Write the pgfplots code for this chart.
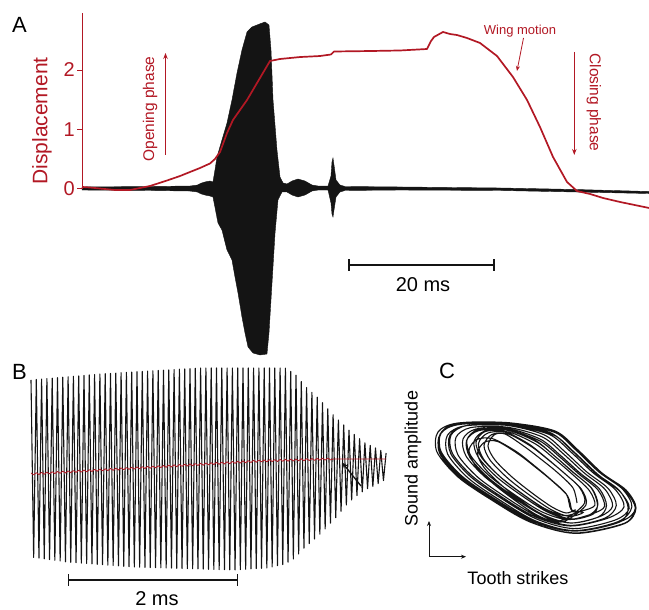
\documentclass[border=0pt]{standalone}
\usepackage{fontspec}
\setmainfont{Liberation Sans}
\usepackage{pgfplots}
\pgfplotsset{compat=1.18}
\usetikzlibrary{arrows.meta}
\definecolor{dispred}{RGB}{178,24,36}
\definecolor{trace}{RGB}{20,20,20}
\newcommand{\fs}[1]{\fontsize{#1}{#1}\selectfont}
\begin{document}
\begin{tikzpicture}
\useasboundingbox (0pt,0pt) rectangle (649pt,610pt);
% ---------------- Panel A ----------------
\begin{axis}[at={(82pt,250pt)}, anchor=south west, scale only axis,
  width=567pt, height=348pt,
  xmin=0, xmax=78.75, ymin=-2.874, ymax=2.975, clip=false,
  axis line style={draw=none}, xtick=\empty, ytick={0,1,2}, ytick pos=left,
  tick align=outside, major tick length=5pt,
  ytick style={draw=dispred, line width=1pt},
  yticklabel style={text=dispred, font=\fs{20}, inner sep=0pt, xshift=-2pt},
  /pgf/number format/assume math mode=true]
% sound trace (envelope of the oscillation)
\addplot[draw=trace, fill=trace, line width=0.4pt] coordinates {
(0,0.034) (9.44,0.042) (15.0,0.050) (16.0,0.065) (16.5,0.095) (17.08,0.118) (17.78,0.134) (18.19,0.118)
(18.47,0.319) (18.75,0.538) (19.44,0.824) (20.14,1.109) (20.83,1.496) (21.53,1.950) (22.22,2.336)
(22.92,2.639) (23.61,2.723) (24.72,2.776) (25.42,2.807) (25.97,2.756) (26.25,2.336) (26.53,1.496)
(27.08,0.655) (27.5,0.202) (27.92,0.101) (28.47,0.084) (29.17,0.134) (30.0,0.168) (30.97,0.134)
(31.94,0.067) (32.78,0.050) (34.17,0.050) (34.58,0.218) (34.72,0.454) (34.86,0.521) (35.0,0.403)
(35.28,0.151) (35.83,0.067) (36.53,0.042) (44.17,0.034) (58.06,0.017) (68.47,-0.008) (78.75,-0.042)
(78.75,-0.076) (68.47,-0.050) (58.06,-0.025) (44.17,-0.017) (36.53,-0.025) (35.83,-0.050) (35.28,-0.134)
(35.0,-0.353) (34.86,-0.471) (34.72,-0.420) (34.58,-0.235) (34.17,-0.017) (32.78,-0.017) (31.94,-0.034)
(30.97,-0.101) (30.0,-0.134) (29.17,-0.101) (28.47,-0.050) (27.78,-0.050) (27.22,-0.185) (26.81,-0.739)
(26.39,-1.580) (25.97,-2.420) (25.69,-2.773) (24.72,-2.790) (23.75,-2.756) (23.06,-2.655) (22.64,-2.420)
(22.22,-2.151) (21.67,-1.748) (21.25,-1.479) (20.83,-1.193) (20.14,-1.025) (19.44,-0.689) (18.89,-0.571)
(18.19,-0.134) (17.78,-0.118) (17.08,-0.101) (16.5,-0.080) (16.0,-0.050) (15.0,-0.034) (9.44,-0.025) (0,-0.017)
} -- cycle;
% wing displacement
\addplot[dispred, line width=1.7pt, line join=round] coordinates {
(0,0.034) (1.11,0.025) (2.5,0.008) (4.58,-0.017) (6.67,-0.017) (9.44,0.050) (11.81,0.143) (13.61,0.218)
(15.0,0.286) (16.39,0.353) (17.78,0.429) (18.47,0.504) (19.17,0.622) (20.14,0.941) (20.97,1.160)
(22.92,1.496) (24.72,1.866) (26.11,2.151) (26.81,2.168) (27.5,2.185) (30.28,2.218) (33.06,2.235)
(34.58,2.261) (35.0,2.311) (40.0,2.319) (44.17,2.328) (47.92,2.353) (48.47,2.487) (48.89,2.555)
(50.14,2.639) (51.11,2.605) (52.08,2.588) (53.47,2.538) (55.28,2.454) (57.64,2.235) (59.86,1.882)
(61.81,1.496) (63.61,1.042) (65.42,0.538) (67.36,0.118) (68.75,-0.034) (70.56,-0.084) (72.36,-0.151)
(74.72,-0.218) (78.75,-0.319)
};
\draw[dispred, line width=1pt] (axis cs:0,0) -- (axis cs:0,2.96);
\end{axis}
\node[font=\fs{22}] at (19.5pt,585pt) {A};
\node[dispred, rotate=90, font=\fs{21}] at (42pt,489pt) {Displacement};
\node[dispred, rotate=90, font=\fs{15.5}] at (150pt,501pt) {Opening phase};
\draw[dispred, line width=1pt, -{Stealth[length=6pt,width=4.5pt]}] (165.5pt,455pt) -- (165.5pt,557pt);
\node[dispred, rotate=-90, font=\fs{15.5}] at (594pt,507.5pt) {Closing phase};
\draw[dispred, line width=1pt, -{Stealth[length=6pt,width=4.5pt]}] (574.3pt,558pt) -- (574.3pt,455pt);
\node[dispred, font=\fs{13}] at (520pt,579pt) {Wing motion};
\draw[dispred, line width=0.8pt, -{Stealth[length=5pt,width=4pt]}] (523.5pt,572pt) -- (517pt,539pt);
\draw[trace, line width=1.3pt] (349pt,345pt) -- (494pt,345pt);
\draw[trace, line width=1.3pt] (349pt,339pt) -- (349pt,351pt);
\draw[trace, line width=1.3pt] (494pt,339pt) -- (494pt,351pt);
\node[font=\fs{20}] at (423pt,325pt) {20 ms};
% ---------------- Panel B ----------------
\begin{axis}[at={(25pt,250pt)}, anchor=north west, scale only axis,
  width=370pt, height=220pt, xmin=25, xmax=395, ymin=360, ymax=580,
  y dir=reverse, hide axis, clip=false]
\addplot[trace, line width=1.1pt, line join=round] coordinates {
(31,380) (33.65,557.4) (36.3,379.5) (38.95,558.1) (41.6,379.1) (44.25,558.8) (46.9,378.6) (49.55,559.6)
(52.2,378.2) (54.85,560.3) (57.5,377.7) (60.15,561.0) (62.8,377.2) (65.45,561.8) (68.1,376.8) (70.75,562.3)
(73.4,376.3) (76.05,562.7) (78.7,375.9) (81.35,563.1) (84.0,375.4) (86.65,563.5) (89.3,374.9) (91.95,563.9)
(94.6,374.5) (97.25,564.3) (99.9,374.0) (102.55,564.7) (105.2,373.7) (107.85,565.1) (110.5,373.4) (113.15,565.5)
(115.8,373.1) (118.45,565.9) (121.1,372.7) (123.75,566.3) (126.4,372.4) (129.05,566.7) (131.7,372.1) (134.35,567.0)
(137.0,371.8) (139.65,567.2) (142.3,371.5) (144.95,567.4) (147.6,371.1) (150.25,567.5) (152.9,370.8) (155.55,567.7)
(158.2,370.5) (160.85,567.8) (163.5,370.2) (166.15,568.0) (168.8,369.9) (171.45,568.1) (174.1,369.6) (176.75,568.3)
(179.4,369.2) (182.05,568.5) (184.7,368.9) (187.35,568.6) (190.0,368.6) (192.65,568.8) (195.3,368.3) (197.95,568.9)
(200.6,368) (203.25,569.1) (205.9,368) (208.55,569.3) (211.2,368) (213.85,569.4) (216.5,368) (219.15,569.6)
(221.8,368) (224.45,569.7) (227.1,368) (229.75,569.9) (232.4,368) (235.05,569.9) (237.7,368) (240.35,569.6)
(243.0,368) (245.65,569.3) (248.3,368) (250.95,568.9) (253.6,368) (256.25,568.6) (258.9,368) (261.55,568.3)
(264.2,368) (266.85,568.0) (269.5,368) (272.15,566.9) (274.8,368) (277.45,565.7) (280.1,368) (282.75,564.5)
(285.4,368.2) (288.05,562.2) (290.7,371.4) (293.35,559.0) (296.0,375.2) (298.65,554.0) (301.3,381.6) (303.95,548.2)
(306.6,387.5) (309.25,543.5) (311.9,392.4) (314.55,539.0) (317.2,397.2) (319.85,534.2) (322.5,402.8) (325.15,528.9)
(327.8,408.8) (330.45,523.2) (333.1,414.8) (335.75,517.7) (338.4,420.0) (341.05,511.3) (343.7,425.0) (346.35,505.0)
(349.0,430.2) (351.65,500.0) (354.3,434.4) (356.95,495.5) (359.6,438.7) (362.25,491.9) (364.9,442.9) (367.55,488.7)
(370.2,445.5) (372.85,486.5) (375.5,448.0) (378.15,483.6) (380.8,450.5) (383.45,480.5) (386.1,453)
};
\addplot[dispred, line width=0.8pt, line join=round] coordinates {
(31,473.0) (33.65,474.9) (36.3,472.7) (38.95,474.6) (41.6,472.4) (44.25,474.3) (46.9,472.1) (49.55,473.9)
(52.2,471.8) (54.85,473.6) (57.5,471.5) (60.15,473.3) (62.8,471.2) (65.45,473.0) (68.1,470.9) (70.75,472.7)
(73.4,470.6) (76.05,472.4) (78.7,470.3) (81.35,472.1) (84.0,470.0) (86.65,471.8) (89.3,469.7) (91.95,471.5)
(94.6,469.4) (97.25,471.2) (99.9,469.1) (102.55,470.9) (105.2,468.8) (107.85,470.6) (110.5,468.5) (113.15,470.3)
(115.8,468.2) (118.45,470.0) (121.1,467.9) (123.75,469.7) (126.4,467.6) (129.05,469.4) (131.7,467.3) (134.35,469.1)
(137.0,467.0) (139.65,468.8) (142.3,466.7) (144.95,468.5) (147.6,466.4) (150.25,468.2) (152.9,466.1) (155.55,467.9)
(158.2,465.8) (160.85,467.6) (163.5,465.5) (166.15,467.3) (168.8,465.1) (171.45,467.0) (174.1,464.8) (176.75,466.7)
(179.4,464.5) (182.05,466.4) (184.7,464.2) (187.35,466.1) (190.0,463.9) (192.65,465.8) (195.3,463.6) (197.95,465.5)
(200.6,463.3) (203.25,465.2) (205.9,463.0) (208.55,464.9) (211.2,462.7) (213.85,464.6) (216.5,462.4) (219.15,464.3)
(221.8,462.1) (224.45,464.0) (227.1,461.8) (229.75,463.7) (232.4,461.5) (235.05,463.4) (237.7,461.2) (240.35,463.1)
(243.0,460.9) (245.65,462.8) (248.3,460.6) (250.95,462.5) (253.6,460.3) (256.25,462.2) (258.9,460.0) (261.55,461.9)
(264.2,459.9) (266.85,461.8) (269.5,459.7) (272.15,461.6) (274.8,459.6) (277.45,461.5) (280.1,459.4) (282.75,461.3)
(285.4,459.3) (288.05,461.2) (290.7,459.1) (293.35,461.0) (296.0,459.0) (298.65,460.8) (301.3,458.8) (303.95,460.7)
(306.6,458.7) (309.25,460.5) (311.9,458.5) (314.55,460.4) (317.2,458.4) (319.85,460.2) (322.5,458.2) (325.15,460.1)
(327.8,458.1) (330.45,459.9) (333,459) (386,459)
};
\end{axis}
\node[font=\fs{22}] at (19.5pt,238pt) {B};
\draw[trace, line width=1.3pt, -{Stealth[length=6pt,width=5pt]}] (361pt,124pt) -- (342.3pt,147.3pt);
\draw[trace, line width=1.3pt] (68.3pt,30pt) -- (237.3pt,30pt);
\draw[trace, line width=1.3pt] (68.3pt,24pt) -- (68.3pt,36pt);
\draw[trace, line width=1.3pt] (237.3pt,24pt) -- (237.3pt,36pt);
\node[font=\fs{20}, inner sep=0pt] at (157pt,11pt) {2 ms};
% ---------------- Panel C ----------------
\begin{axis}[at={(400pt,200pt)}, anchor=north west, scale only axis,
  width=249pt, height=140pt, xmin=400, xmax=649, ymin=410, ymax=550,
  y dir=reverse, hide axis, clip=false]
\addplot[trace, line width=1.1pt, smooth, tension=0.5] coordinates {
(577,503) (573,488) (558,473) (542,460) (525,447) (505,434) (494,435) (488,446) (495,460) (512,477) (532,493) (552,507) (566,513) (575,510)
(572,511.3) (567.7,496.1) (552.2,481) (535.8,467.5) (518.5,454.2) (497.3,441.4) (484.2,442.4) (477.5,453.3) (484.1,467.6) (501.3,485) (521.9,501.3) (542.9,515.8) (558.5,522) (569.5,518.7)
(586.1,504.6) (581.4,489.2) (565.3,474) (548.3,459.8) (530.6,446.1) (507.6,433.7) (491.7,434.6) (484,445.3) (490,460) (507.5,478) (529,494.7) (551.4,509.8) (569.1,516.4) (583,512.6)
(571.1,509.6) (566.4,494.2) (550.3,479) (533.3,464.8) (515.6,451.1) (492.6,438.7) (476.7,439.6) (469,450.3) (475,465) (492.5,483) (514,499.7) (536.4,514.8) (554.1,521.4) (568,517.6)
(584.6,502.9) (579.5,487.4) (562.9,472) (545.5,457.2) (527.4,443.1) (502.9,431) (484.5,431.8) (476,442.5) (481.6,457.6) (499.3,476) (521.4,493.1) (545,508.7) (564.6,515.6) (581,511.3)
(594.8,505.3) (589.3,490.5) (572,474) (554,458.5) (535.5,444) (509.3,432.2) (488,433) (478.5,443.5) (483.5,459) (501.5,478) (524.5,495.5) (549.5,511.8) (571.3,519) (590.5,514.3)
(597.9,504.6) (592,488.6) (574.1,473) (555.5,456.8) (536.6,441.9) (508.6,430.5) (484.5,431.2) (474,441.5) (478.4,457.4) (496.7,477) (520.6,494.9) (547,511.8) (570.9,519.4) (593,514.2)
(597.4,503.9) (591.1,487.8) (572.7,472) (553.7,455.2) (534.4,439.9) (504.9,428.8) (478.3,429.4) (467,439.7) (471,456) (489.5,476) (514,494.3) (541.6,511.7) (567.4,519.6) (592,513.9)
(604.6,506.3) (597.9,489.9) (578.8,474) (559.2,456.5) (539.5,440.8) (508.3,430) (478.8,430.6) (466.5,440.7) (469.9,457.4) (488.7,478) (514.1,496.7) (543.1,514.8) (571.1,523) (598.5,516.9)
(606.5,505.5) (599.5,489) (580,473) (560,455) (540,439) (507.5,428.5) (476,429) (463,439) (466,456) (485,477) (511,496) (541,514.5) (570.5,523) (600,516.5)
(612.6,506.1) (604.9,489.2) (584.3,473) (563.3,453.8) (542.6,437.1) (507.1,427.2) (470.7,427.6) (456,437.3) (458,455) (477.5,477) (505,496.7) (537.4,516.3) (570.6,525.4) (605,518.1)
(616.3,505.5) (608.1,488.4) (586.8,472) (565.2,452) (544,434.8) (506.5,425.3) (466.8,425.6) (451,435.2) (452.4,453.4) (472.2,476) (500.6,496.2) (534.6,516.5) (570.3,526) (608,518.1)
(624,506.9) (615.3,489.6) (593.3,473) (571.1,452.2) (549.4,434.5) (509.9,425.4) (466.9,425.6) (450,435.1) (450.8,453.8) (470.9,477) (500.2,497.7) (535.8,518.7) (574,528.6) (615,520.1)
(629.2,508.3) (620.1,491.7) (597.4,474) (574.6,452.5) (552.5,434.4) (511.3,425.6) (465.4,425.8) (447.5,435.1) (447.7,454.2) (468.1,478) (498.3,499.1) (535.3,520.8) (575.7,531) (619.5,522.1)
(628.1,507.5) (618.7,489.8) (595.6,473) (572.4,451) (550,432.6) (507.5,424.1) (459.6,424.2) (441,433.4) (440.8,452.8) (461.4,477) (492.2,498.4) (530.2,520.5) (572.1,531) (618,521.7)
(631.9,506.7) (622.3,488.9) (598.9,472) (575.5,449.7) (552.9,431.1) (509.7,422.8) (460.5,422.8) (441.5,432) (441.1,451.6) (461.8,476) (492.9,497.6) (531.5,520) (574.4,530.6) (621.5,521.1)
(635.2,508.9) (625.4,490.9) (601.7,474) (577.9,451.3) (555.1,432.5) (510.9,424.3) (460.1,424.4) (440.5,433.4) (439.7,453.2) (460.6,478) (492.3,499.8) (531.7,522.6) (575.7,533.4) (624.5,523.6)
(636,508) (626,490) (602,473) (578,450) (555,431) (510,423) (458,423) (438,432) (437,452) (458,477) (490,499) (530,522) (575,533) (625,523)
(636,508)
};
\end{axis}
\node[font=\fs{22}] at (447pt,239pt) {C};
\node[rotate=90, font=\fs{18}] at (413pt,151.5pt) {Sound amplitude};
\node[font=\fs{18}] at (518pt,31.5pt) {Tooth strikes};
\draw[trace, line width=0.9pt, -{Stealth[length=5pt,width=4pt]}] (429pt,53.3pt) -- (429pt,89pt);
\draw[trace, line width=0.9pt, -{Stealth[length=5pt,width=4pt]}] (429pt,53.3pt) -- (466pt,53.3pt);
\end{tikzpicture}
\end{document}
